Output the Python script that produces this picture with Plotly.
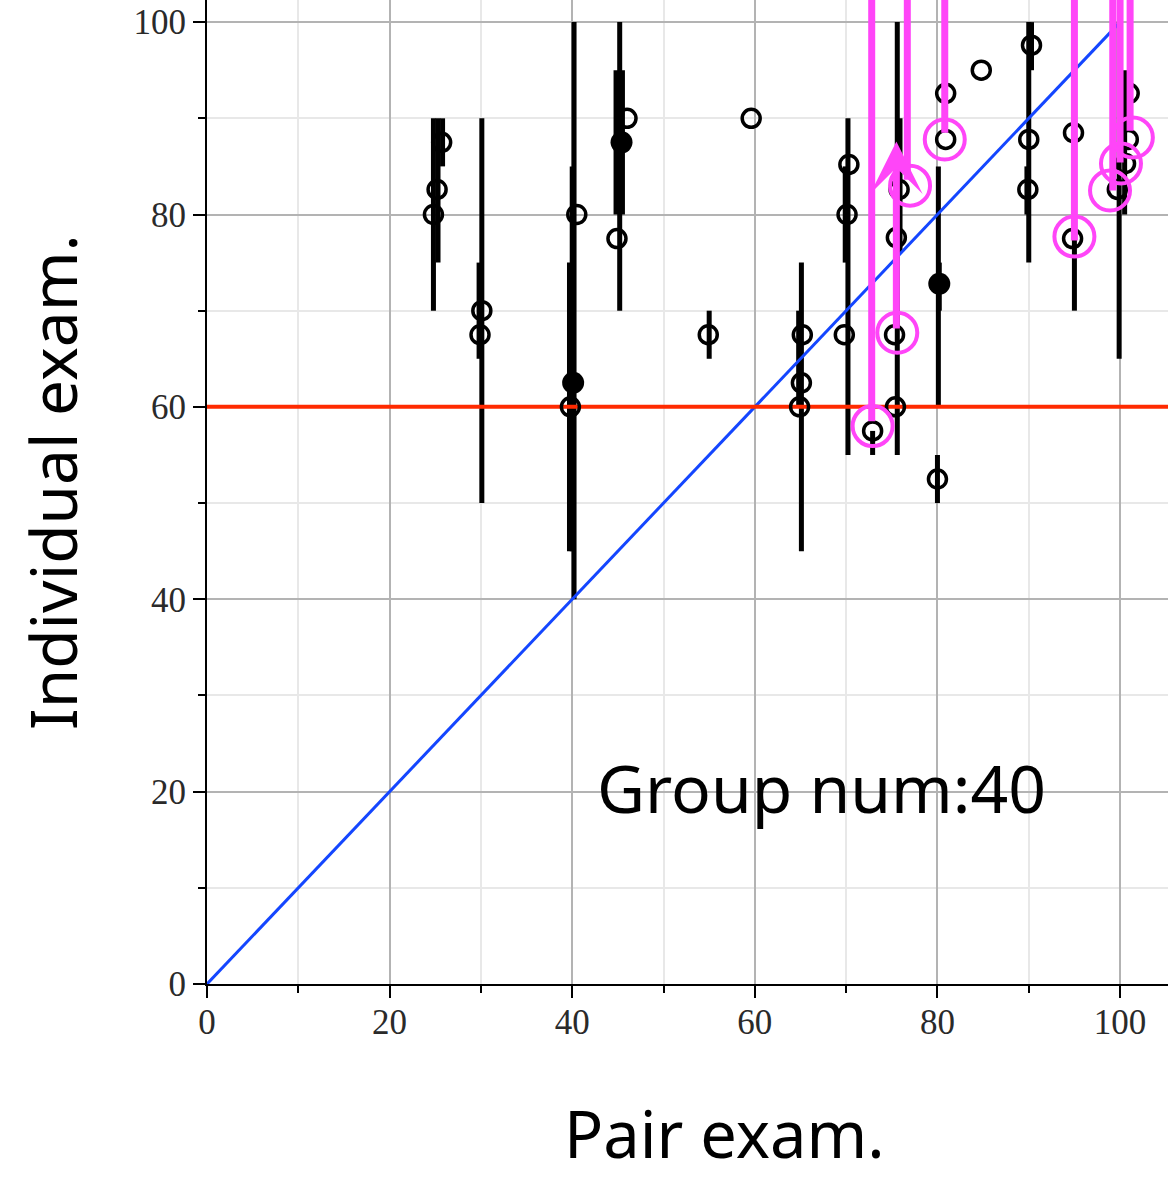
import plotly.graph_objects as go

# ---------------- data ----------------
# black open circles: (pair exam, individual exam)
open_x = [24.8, 25.2, 25.7, 30.1, 29.9, 40.5, 39.8, 46.0, 44.9, 54.9,
          59.6, 65.2, 65.1, 64.9, 70.3, 70.1, 69.8, 72.9, 75.8, 75.5,
          75.3, 75.4, 80.0, 80.9, 80.9, 84.8, 90.3, 90.0, 89.9, 94.9,
          94.8, 101.0, 100.9, 100.6, 99.7]
open_y = [80.0, 82.6, 87.5, 70.0, 67.5, 80.0, 60.0, 90.0, 77.5, 67.5,
          90.0, 67.5, 62.5, 60.0, 85.2, 80.0, 67.5, 57.5, 82.6, 77.6,
          67.5, 60.0, 52.5, 92.6, 87.8, 95.0, 97.6, 87.8, 82.6, 88.5,
          77.5, 92.6, 87.8, 85.3, 82.6]
# black filled circles
filled_x = [40.1, 45.4, 80.2]
filled_y = [62.5, 87.5, 72.8]

# vertical range bars
bar_x = [24.8, 25.3, 25.8, 30.1, 29.8, 40.2, 40.0, 39.7, 45.2, 44.8,
         45.5, 55.0, 65.1, 64.8, 70.2, 69.9, 72.9, 75.6, 75.9, 80.1,
         80.2, 80.0, 90.0, 90.3, 89.8, 95.0, 99.9, 100.5]
bar_lo = [70, 75, 85, 50, 65, 40, 45, 45, 70, 80,
          80, 65, 45, 60, 55, 75, 55, 55, 76, 60,
          70, 50, 75, 95, 80, 70, 65, 80]
bar_hi = [90, 90, 90, 90, 75, 100, 85, 75, 100, 95,
          95, 70, 75, 70, 90, 85, 57.5, 100, 90, 85,
          75, 55, 100, 100, 85, 77.5, 100, 95]

# magenta highlight circles
pink_x = [72.9, 77.0, 75.6, 80.8, 95.0, 98.9, 100.1, 101.4]
pink_y = [58.0, 83.0, 67.7, 87.8, 77.7, 82.5, 85.3, 88.0]
# magenta lines coming from the top edge down to a highlight
pline_x = [72.8, 76.7, 80.8, 95.0, 99.2, 100.0, 101.1]
pline_end = [58.5, 83.6, 88.5, 77.3, 82.5, 85.4, 88.7]
# magenta arrow (start -> tip)
arrow_x = 75.5
arrow_start = 68.0
arrow_tip = 87.6

# reference lines
diag_x = [0, 100]
diag_y = [0, 100]
pass_line_x = [0, 105.25]
pass_line_y = [60, 60]

x_range = [0, 105.25]
y_range = [0, 102.3]
annotation_text = "Group num:40"

PINK = "#ff45f8"

# ---------------- figure ----------------
fig = go.Figure()

# bars as segments
bx, by = [], []
for x, lo, hi in zip(bar_x, bar_lo, bar_hi):
    bx += [x, x, None]
    by += [lo, hi, None]
fig.add_trace(go.Scatter(x=bx, y=by, mode="lines",
                         line=dict(color="black", width=5), hoverinfo="skip"))

fig.add_trace(go.Scatter(x=diag_x, y=diag_y, mode="lines",
                         line=dict(color="#1446ff", width=3)))
fig.add_trace(go.Scatter(x=pass_line_x, y=pass_line_y, mode="lines",
                         line=dict(color="#ff2a00", width=4)))

fig.add_trace(go.Scatter(x=open_x, y=open_y, mode="markers",
                         marker=dict(symbol="circle-open", size=18, color="black",
                                     line=dict(color="black", width=3.5))))
fig.add_trace(go.Scatter(x=filled_x, y=filled_y, mode="markers",
                         marker=dict(symbol="circle", size=22, color="black",
                                     line=dict(width=0))))

# pink lines from the top
top = y_range[1] + 5
px_, py_ = [], []
for x, e in zip(pline_x, pline_end):
    px_ += [x, x, None]
    py_ += [top, e, None]
fig.add_trace(go.Scatter(x=px_, y=py_, mode="lines",
                         line=dict(color=PINK, width=7), hoverinfo="skip"))
fig.add_trace(go.Scatter(x=pink_x, y=pink_y, mode="markers",
                         marker=dict(symbol="circle-open", size=40, color=PINK,
                                     line=dict(color=PINK, width=4))))

fig.add_annotation(x=arrow_x, y=arrow_tip, ax=arrow_x, ay=arrow_start,
                   xref="x", yref="y", axref="x", ayref="y", text="",
                   showarrow=True, arrowhead=3, arrowsize=1.25, arrowwidth=7,
                   arrowcolor=PINK, standoff=0, startstandoff=0)

fig.add_annotation(x=42.5, y=20.5, xref="x", yref="y", text=annotation_text,
                   showarrow=False, xanchor="left", yanchor="middle",
                   font=dict(family="Noto Sans", size=66, color="black"))

fig.add_annotation(x=(724 - 207) / 961, y=-149 / 984, xref="paper", yref="paper",
                   text="Pair exam.", showarrow=False, xanchor="center", yanchor="middle",
                   font=dict(family="Noto Sans", size=65, color="black"))
fig.add_annotation(x=(52 - 207) / 961, y=(984 - 482) / 984, xref="paper", yref="paper",
                   text="Individual exam.", showarrow=False, textangle=-90,
                   xanchor="center", yanchor="middle",
                   font=dict(family="Noto Sans", size=64, color="black"))

axis_common = dict(
    tick0=0, dtick=20, ticks="outside", ticklen=12, tickwidth=2, tickcolor="black",
    showline=True, linecolor="black", linewidth=2,
    showgrid=True, gridcolor="#b3b3b3", gridwidth=1.5,
    zeroline=False, automargin=False,
    tickfont=dict(family="Liberation Serif", size=35, color="#2a2a2a"),
    minor=dict(dtick=10, tick0=0, ticks="outside", ticklen=7, tickwidth=2, tickcolor="black",
               showgrid=True, gridcolor="#e8e8e8", gridwidth=1.5),
    fixedrange=True,
)
fig.update_xaxes(range=x_range, ticklabelstandoff=-6, **axis_common)
fig.update_yaxes(range=y_range, **axis_common)

fig.update_layout(
    width=1176, height=1178,
    margin=dict(l=207, r=8, t=0, b=194),
    plot_bgcolor="white", paper_bgcolor="white",
    showlegend=False,
)

fig.write_html("out.html", config={"displayModeBar": False},
               post_script="document.body.style.margin='0';document.body.style.overflow='hidden';")
